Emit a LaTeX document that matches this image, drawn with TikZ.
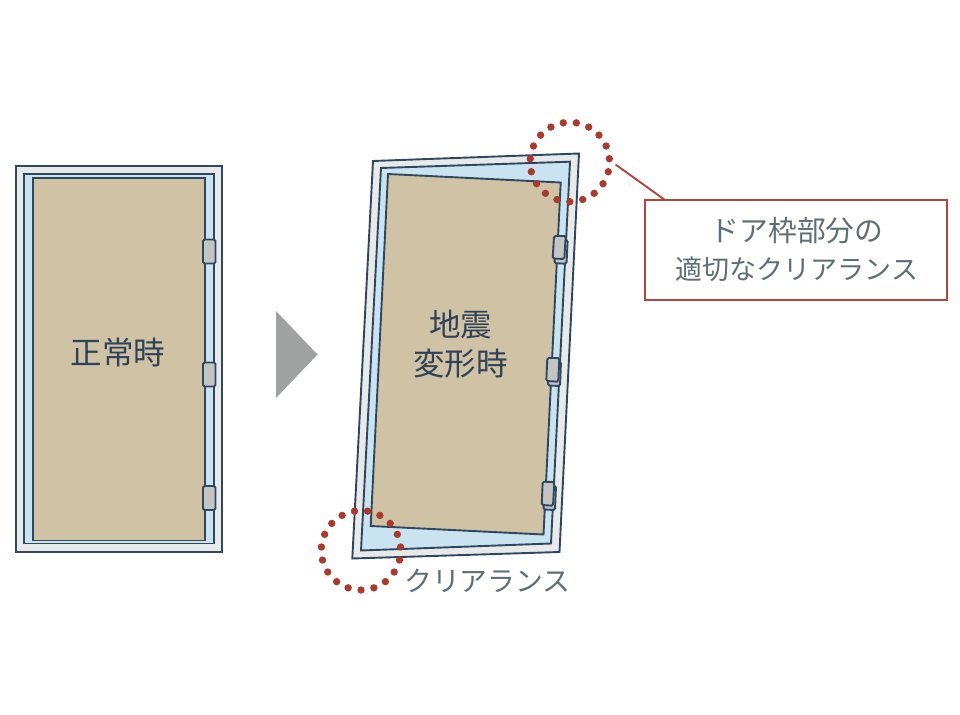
\documentclass[tikz,border=0pt]{standalone}
\usepackage{fontspec}
\newfontfamily\cjk{Noto Sans CJK JP}
\definecolor{linec}{HTML}{2F4860}
\definecolor{framec}{HTML}{E8EAEA}
\definecolor{gapc}{HTML}{C9E3F1}
\definecolor{doorc}{HTML}{D0C3A5}
\definecolor{hingec}{HTML}{C4C4C4}
\definecolor{redc}{HTML}{A93A30}
\definecolor{boxc}{HTML}{B0463C}
\definecolor{greyt}{HTML}{5F6E75}
\definecolor{darkt}{HTML}{2F4258}
\definecolor{arrowc}{HTML}{A0A2A2}
\tikzset{
  framepart/.style={draw=linec,line width=1.9pt,fill=framec,line join=miter},
  gappart/.style={draw=linec,line width=1.9pt,fill=gapc},
  doorpart/.style={draw=linec,line width=1.9pt,fill=doorc},
  hingepart/.style={draw=linec,line width=1.9pt,fill=hingec,rounded corners=1.5pt},
  reddot/.style={fill=redc,draw=none},
  darklabel/.style={font=\cjk\fontsize{31.5}{39}\selectfont,text=darkt,align=center,inner sep=0pt},
  greylabel/.style={font=\cjk\fontsize{27.8}{38}\selectfont,text=greyt,align=center,inner sep=0pt},
}
\begin{document}
\begin{tikzpicture}[x=1pt,y=-1pt]
\path[use as bounding box,fill=white] (0,0) rectangle (960,714);
% left door
\path[framepart] (15.7,165.7) rectangle (221.7,551.7);
\path[gappart] (24,174) rectangle (213.7,543.5);
\path[doorpart] (32.7,178) rectangle (205,540.5);
\path[hingepart] (203,239.5) rectangle (215.5,263.5);
\path[hingepart] (203,362.5) rectangle (215.5,386.5);
\path[hingepart] (203,486) rectangle (215.5,510);
\node[darklabel] (normal) at (118,353) {正常時};
% arrow
\path[fill=arrowc] (276,311) -- (317.5,354.5) -- (276,398) -- cycle;
% right door
\path[framepart] (373,161) -- (579,153.5) -- (559.5,552) -- (352.3,558.5) -- cycle;
\path[gappart] (381,168) -- (570,161.7) -- (551,543.5) -- (361,550.5) -- cycle;
\path[doorpart] (388,174) -- (560.7,182.5) -- (543.5,534.5) -- (370.7,526) -- cycle;
\path[hingepart] (555,240) -- (567.7,240) -- (566.5,263.7) -- (554.5,263.2) -- cycle;
\path[hingepart] (554,236) -- (565.7,236) -- (564.3,259) -- (552.7,258.5) -- cycle;
\path[hingepart] (549,362) -- (561,362) -- (560,386) -- (548,385.5) -- cycle;
\path[hingepart] (547.3,358) -- (559.3,358) -- (558.3,381.7) -- (546.3,381) -- cycle;
\path[hingepart] (544,486) -- (556,486) -- (555,510) -- (543.5,509.5) -- cycle;
\path[hingepart] (542.7,481.7) -- (554.3,482) -- (553,505.7) -- (541.7,505) -- cycle;
\node[darklabel] (quake) at (460.5,344.5) {地震\\変形時};
% dotted circles
\foreach \i in {0,...,18}{
  \fill[reddot] ({569.8+39.7*cos(90+\i*360/19)},{162+39.7*sin(90+\i*360/19)}) circle (3.7);
  \fill[reddot] ({361+39.7*cos(90+\i*360/19)},{550.3+39.7*sin(90+\i*360/19)}) circle (3.7);
}
\node[greylabel] (clr) at (487.5,581) {クリアランス};
% callout
\coordinate (leaderstart) at (615.5,164.5);
\coordinate (leaderend) at (665,200);
\draw[boxc,line width=1.9pt] (leaderstart) -- (leaderend);
\node[draw=boxc,line width=1.9pt,fill=white,minimum width=302pt,minimum height=100pt,outer sep=0pt,inner sep=0pt] (callout) at (796,250) {};
\node[greylabel] (callouttext) at (797,250) {{\fontsize{28.8}{38}\selectfont ドア枠部分の}\\{\fontsize{27}{38}\selectfont 適切なクリアランス}};
\end{tikzpicture}
\end{document}
